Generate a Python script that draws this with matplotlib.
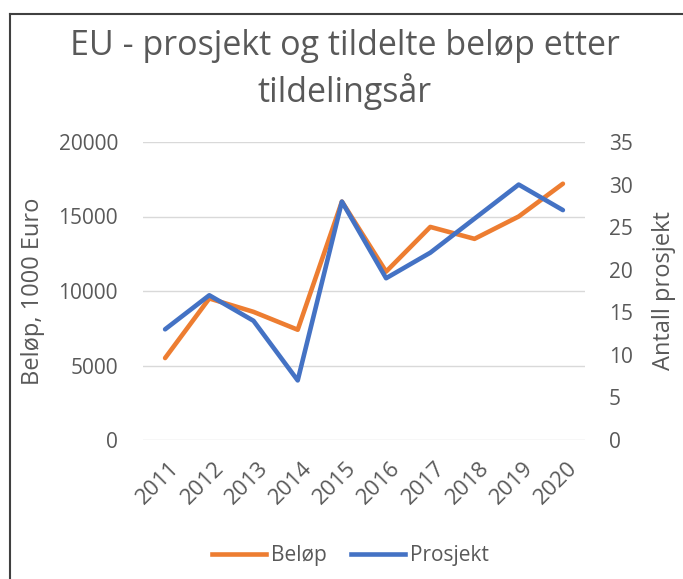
import matplotlib
matplotlib.use("Agg")
import matplotlib.pyplot as plt
from matplotlib.lines import Line2D
from matplotlib.transforms import ScaledTranslation

years = ["2011", "2012", "2013", "2014", "2015", "2016", "2017", "2018", "2019", "2020"]
belop = [5500, 9500, 8600, 7400, 16000, 11300, 14300, 13500, 15000, 17200]
prosjekt = [13, 17, 14, 7, 28, 19, 22, 26, 30, 27]

orange = "#ED7D31"
blue = "#4472C4"
gray = "#595959"
plt.rcParams['font.family'] = ['Open Sans', 'DejaVu Sans']

fig = plt.figure(figsize=(6.83, 5.79), dpi=100)
ax = fig.add_axes([143/683, 1-440/579, (585-143)/683, (440-142)/579])
ax2 = ax.twinx()

x = list(range(len(years)))
ax.plot(x, belop, color=orange, lw=3.3, solid_capstyle='round', zorder=3)
ax2.plot(x, prosjekt, color=blue, lw=3.3, solid_capstyle='round', zorder=4)

ax.set_xlim(-0.5, len(years) - 0.5)
ax.set_ylim(0, 20000)
ax.set_yticks([0, 5000, 10000, 15000, 20000])
ax2.set_ylim(0, 35)
ax2.set_yticks([0, 5, 10, 15, 20, 25, 30, 35])
ax.set_xticks(x)
ax.set_xticklabels(years, rotation=45, ha='right', rotation_mode='anchor')

ax.grid(axis='y', color='#D9D9D9', lw=1)
ax.set_axisbelow(True)
for a in (ax, ax2):
    for s in a.spines.values():
        s.set_visible(False)
    a.tick_params(length=0, colors=gray, labelsize=15)
ax.tick_params(axis='y', pad=18)
ax2.tick_params(axis='y', pad=17)
ax.tick_params(axis='x', pad=13, labelsize=16)
for lbl in ax.get_xticklabels():
    lbl.set_transform(lbl.get_transform() + ScaledTranslation(4/100, 0, fig.dpi_scale_trans))

ax.set_ylabel("Beløp, 1000 Euro", color=gray, fontsize=17)
ax2.set_ylabel("Antall prosjekt", color=gray, fontsize=17)
ax.yaxis.set_label_coords((45-143)/442, 0.5)
ax2.yaxis.set_label_coords((652-143)/442, 0.5)

fig.text(0.505, 1-46/579, "EU - prosjekt og tildelte beløp etter", ha='center', va='center',
         fontsize=24.5, color=gray)
fig.text(0.505, 1-92/579, "tildelingsår", ha='center', va='center', fontsize=24.5, color=gray)

handles = [Line2D([], [], color=orange, lw=3.3), Line2D([], [], color=blue, lw=3.3)]
fig.legend(handles, ["Beløp", "Prosjekt"], loc='center', bbox_to_anchor=(0.513, 1-556/579),
           ncol=2, frameon=False, fontsize=15, labelcolor=gray, handlelength=2.6,
           handletextpad=0.2, columnspacing=1.2)

# partial frame of the original chart border
fig.add_artist(Line2D([10/683, 10/683], [0, 1-14/579], transform=fig.transFigure, color='#404040', lw=1.5))
fig.add_artist(Line2D([10/683, 1], [1-14/579, 1-14/579], transform=fig.transFigure, color='#404040', lw=1.5))

fig.savefig("out.png", dpi=100)
